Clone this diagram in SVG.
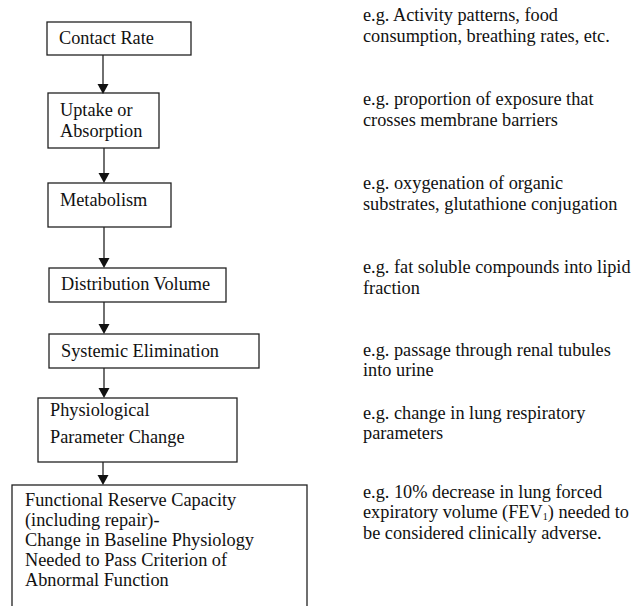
<svg xmlns="http://www.w3.org/2000/svg" width="636" height="606" viewBox="0 0 636 606">
<defs>
<style>
text{font-family:"Liberation Serif","Times New Roman",serif;font-size:18.3px;fill:#111}
.box{fill:#fff;stroke:#222;stroke-width:1.3}
.conn line{stroke:#222;stroke-width:1.3}
.conn polygon{fill:#111}
</style>
</defs>
<rect width="636" height="606" fill="#fff"/>
<g id="n1"><rect class="box" x="47" y="22" width="144" height="33"/><text x="59" y="44">Contact Rate</text></g>
<g id="n2"><rect class="box" x="48" y="93" width="111" height="55"/><text x="60" y="116">Uptake or</text><text x="60" y="137">Absorption</text></g>
<g id="n3"><rect class="box" x="48" y="183" width="123" height="44"/><text x="60" y="206">Metabolism</text></g>
<g id="n4"><rect class="box" x="49" y="268" width="177" height="34"/><text x="61" y="290">Distribution Volume</text></g>
<g id="n5"><rect class="box" x="49" y="334" width="210" height="34"/><text x="61" y="357">Systemic Elimination</text></g>
<g id="n6"><rect class="box" x="38" y="398" width="199" height="64"/><text x="50" y="416">Physiological</text><text x="50" y="443">Parameter Change</text></g>
<g id="n7"><rect class="box" x="12" y="485" width="295" height="130"/><text x="25" y="506">Functional Reserve Capacity</text><text x="25" y="526">(including repair)-</text><text x="25" y="546">Change in Baseline Physiology</text><text x="25" y="566">Needed to Pass Criterion of</text><text x="25" y="586">Abnormal Function</text></g>
<g id="notes">
<text x="363" y="21">e.g. Activity patterns, food</text><text x="363" y="42">consumption, breathing rates, etc.</text>
<text x="363" y="105">e.g. proportion of exposure that</text><text x="363" y="126">crosses membrane barriers</text>
<text x="363" y="189">e.g. oxygenation of organic</text><text x="363" y="210">substrates, glutathione conjugation</text>
<text x="363" y="273">e.g. fat soluble compounds into lipid</text><text x="363" y="294">fraction</text>
<text x="363" y="356">e.g. passage through renal tubules</text><text x="363" y="376">into urine</text>
<text x="363" y="419">e.g. change in lung respiratory</text><text x="363" y="439">parameters</text>
<text x="363" y="498">e.g. 10% decrease in lung forced</text><text x="363" y="518">expiratory volume (FEV<tspan font-size="10" baseline-shift="-2">1</tspan>) needed to</text><text x="363" y="539">be considered clinically adverse.</text>
</g>
<g id="connectors" class="conn">
<line x1="103" y1="55" x2="103" y2="84"/><polygon points="97.5,84 108.5,84 103,94"/>
<line x1="104" y1="148" x2="104" y2="173"/><polygon points="98.5,173 109.5,173 104,183"/>
<line x1="104" y1="227" x2="104" y2="258"/><polygon points="98.5,258 109.5,258 104,268"/>
<line x1="104" y1="302" x2="104" y2="324"/><polygon points="98.5,324 109.5,324 104,334"/>
<line x1="104" y1="368" x2="104" y2="388"/><polygon points="98.5,388 109.5,388 104,398"/>
<line x1="103" y1="462" x2="103" y2="475"/><polygon points="97.5,475 108.5,475 103,485"/>
</g>
</svg>
